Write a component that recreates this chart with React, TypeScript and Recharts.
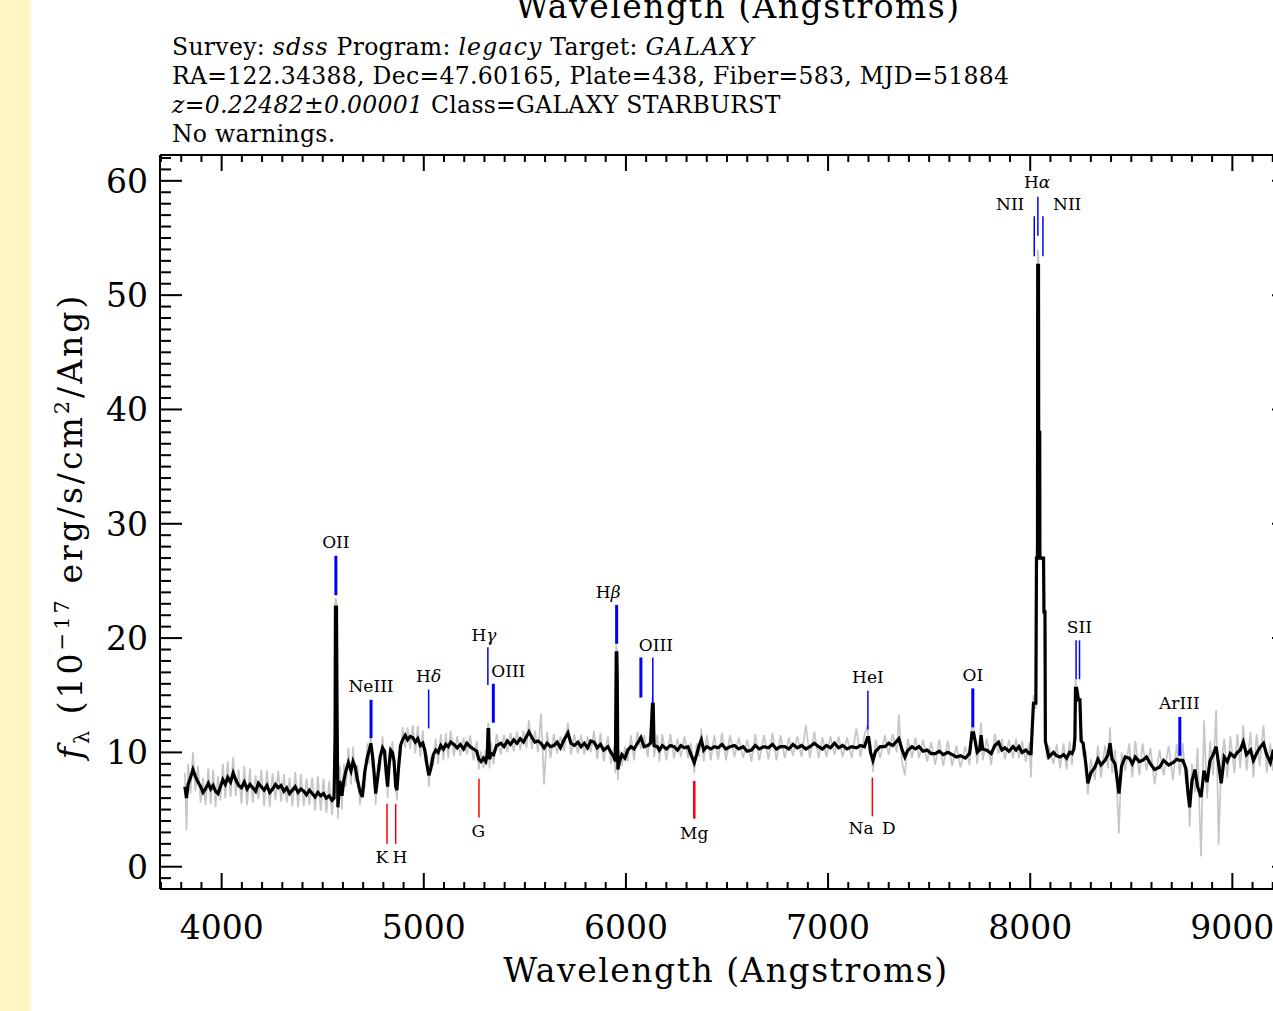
import React from 'react'
import { LineChart, Line, XAxis, YAxis, ReferenceLine, ReferenceDot } from 'recharts'

// observed wavelength (Angstroms)
const wavelength = [
  3818, 3826, 3834, 3846, 3858, 3870, 3883, 3896, 3908, 3920,
  3934, 3946, 3958, 3970, 3982, 3994, 4006, 4018, 4030, 4044,
  4057, 4070, 4084, 4098, 4112, 4126, 4140, 4154, 4168, 4182,
  4196, 4210, 4224, 4238, 4252, 4266, 4280, 4294, 4308, 4322,
  4336, 4350, 4364, 4378, 4392, 4406, 4420, 4434, 4448, 4462,
  4476, 4490, 4504, 4518, 4532, 4546, 4556, 4561, 4563, 4568,
  4571, 4575, 4585, 4595, 4605, 4615, 4627, 4640, 4650, 4661,
  4672, 4684, 4696, 4708, 4721, 4730, 4738, 4746, 4754, 4762,
  4772, 4784, 4796, 4806, 4814, 4821, 4828, 4836, 4845, 4853,
  4861, 4867, 4875, 4885, 4895, 4908, 4920, 4933, 4945, 4958,
  4970, 4983, 4995, 5005, 5015, 5025, 5035, 5047, 5059, 5071,
  5084, 5097, 5109, 5121, 5133, 5149, 5165, 5181, 5197, 5213,
  5229, 5246, 5262, 5272, 5283, 5295, 5306, 5314, 5318, 5321,
  5325, 5333, 5345, 5360, 5381, 5397, 5413, 5429, 5445, 5461,
  5477, 5493, 5508, 5520, 5535, 5550, 5565, 5580, 5595, 5610,
  5627, 5643, 5660, 5676, 5694, 5713, 5728, 5745, 5762, 5778,
  5794, 5810, 5826, 5842, 5858, 5874, 5890, 5911, 5926, 5941,
  5948, 5952, 5955, 5957, 5960, 5968, 5980, 5995, 6009, 6025,
  6040, 6057, 6074, 6090, 6108, 6122, 6131, 6135, 6139, 6155,
  6165, 6180, 6200, 6220, 6238, 6255, 6272, 6290, 6307, 6322,
  6338, 6350, 6362, 6373, 6385, 6400, 6420, 6437, 6456, 6475,
  6495, 6515, 6537, 6558, 6580, 6600, 6621, 6640, 6660, 6683,
  6705, 6725, 6745, 6765, 6786, 6806, 6826, 6848, 6869, 6890,
  6910, 6932, 6953, 6972, 6992, 7012, 7032, 7052, 7072, 7094,
  7117, 7140, 7160, 7180, 7195, 7201, 7210, 7222, 7235, 7258,
  7281, 7300, 7320, 7340, 7350, 7365, 7380, 7395, 7415, 7432,
  7450, 7470, 7490, 7510, 7530, 7550, 7570, 7592, 7614, 7635,
  7655, 7679, 7700, 7712, 7720, 7738, 7750, 7757, 7765, 7785,
  7807, 7825, 7843, 7860, 7875, 7895, 7915, 7930, 7944, 7960,
  7978, 7995, 8004, 8016, 8028, 8031, 8036, 8037, 8041, 8042,
  8047, 8048, 8066, 8068, 8073, 8075, 8082, 8092, 8115, 8131,
  8148, 8165, 8180, 8195, 8207, 8216, 8221, 8224, 8230, 8238,
  8246, 8252, 8262, 8275, 8285, 8300, 8320, 8335, 8350, 8370,
  8385, 8395, 8405, 8420, 8439, 8452, 8470, 8490, 8505, 8520,
  8540, 8556, 8575, 8595, 8615, 8640, 8660, 8685, 8706, 8725,
  8740, 8755, 8770, 8780, 8789, 8800, 8815, 8828, 8845, 8860,
  8875, 8890, 8905, 8920, 8932, 8945, 8960, 8975, 8990, 9010,
  9025, 9039, 9054, 9070, 9090, 9104, 9120, 9135, 9154, 9170,
  9188, 9200, 9218, 9232,
]

// smoothed flux (black)
const flux = [
  7.0, 6.0, 7.2, 7.8, 8.5, 7.9, 7.4, 7.0, 6.5, 6.8,
  7.3, 6.8, 7.1, 6.6, 6.4, 7.0, 7.6, 7.2, 7.8, 7.4,
  8.2, 7.6, 7.1, 6.9, 7.4, 6.8, 7.2, 6.9, 6.6, 7.3,
  7.0, 6.7, 7.1, 6.5, 6.8, 7.2, 6.9, 7.1, 6.6, 6.9,
  6.4, 6.7, 7.0, 6.5, 6.8, 6.6, 6.3, 6.7, 6.4, 6.1,
  6.5, 6.2, 6.4, 6.0, 6.2, 5.8, 6.0, 11.3, 22.7, 22.7,
  13.4, 5.2, 7.5, 6.2, 7.6, 8.4, 9.1, 8.4, 9.2, 8.7,
  7.6, 6.6, 6.1, 8.3, 9.6, 10.2, 10.8, 9.8, 8.2, 6.4,
  7.8, 9.6, 10.4, 10.1, 8.2, 7.0, 8.8, 10.2, 10.0, 9.2,
  7.0, 6.7, 8.6, 10.6, 11.1, 11.5, 11.1, 11.4, 11.3, 10.9,
  11.2, 10.6, 10.8, 10.2, 9.0, 8.0, 8.6, 9.8, 10.2, 10.0,
  10.6, 10.3, 10.7, 10.5, 10.9, 10.7, 10.4, 10.7, 10.3, 10.8,
  10.5, 10.3, 10.1, 9.4, 9.2, 9.5, 9.2, 9.8, 12.0, 12.0,
  9.4, 9.9, 9.8, 10.6, 10.8, 10.5, 11.0, 10.7, 11.1, 10.8,
  11.2, 10.9, 11.4, 11.8, 11.3, 10.9, 11.0, 10.8, 10.4, 10.8,
  10.5, 10.6, 10.9, 10.4, 11.1, 11.7, 10.8, 10.6, 10.9, 10.5,
  10.8, 10.4, 11.0, 10.9, 10.4, 10.7, 10.2, 10.5, 10.0, 9.6,
  9.2, 18.7, 18.7, 16.6, 8.5, 9.2, 9.8, 9.5, 10.2, 10.5,
  10.3, 10.8, 11.3, 10.5, 10.6, 10.8, 14.2, 14.2, 10.6, 10.5,
  10.2, 10.6, 10.3, 10.6, 10.5, 10.2, 10.6, 10.4, 10.5, 9.8,
  9.1, 9.8, 10.6, 11.1, 10.2, 10.5, 10.3, 10.5, 10.4, 10.7,
  10.3, 10.5, 10.6, 10.3, 10.5, 10.1, 10.2, 10.6, 10.3, 10.5,
  10.4, 10.7, 10.3, 10.5, 10.5, 10.3, 10.7, 10.4, 10.6, 10.3,
  10.5, 10.8, 10.5, 10.3, 10.6, 10.4, 10.8, 10.4, 10.6, 10.3,
  10.5, 10.4, 10.6, 10.5, 11.3, 11.3, 10.0, 9.3, 10.1, 10.5,
  10.5, 10.8, 10.6, 11.0, 11.2, 10.3, 9.6, 10.2, 10.5, 10.3,
  10.5, 10.1, 10.2, 9.9, 9.9, 10.1, 9.8, 10.0, 9.8, 9.6,
  9.7, 9.5, 9.9, 11.7, 11.7, 10.0, 10.2, 11.5, 10.3, 10.2,
  9.9, 10.6, 10.9, 10.2, 10.4, 10.1, 10.5, 10.2, 10.5, 10.0,
  10.2, 9.9, 9.9, 14.3, 14.3, 27.0, 27.0, 52.6, 52.6, 38.0,
  38.0, 27.0, 27.0, 22.3, 22.3, 11.0, 10.4, 9.6, 10.0, 9.7,
  9.6, 9.8, 9.5, 10.0, 9.9, 10.3, 11.2, 15.6, 15.6, 14.6,
  14.6, 11.0, 10.8, 9.0, 7.3, 8.2, 8.7, 9.4, 8.9, 9.3,
  9.8, 10.8, 9.4, 9.0, 6.4, 8.8, 9.6, 9.5, 9.0, 9.6,
  9.2, 9.3, 9.6, 9.0, 8.5, 8.7, 9.3, 8.9, 9.1, 9.4,
  9.3, 9.3, 8.6, 6.5, 5.2, 7.5, 8.5, 7.0, 6.1, 8.4,
  7.4, 9.3, 9.8, 10.5, 9.0, 7.3, 9.6, 9.2, 9.9, 9.6,
  10.0, 10.2, 10.9, 9.8, 10.2, 9.3, 9.9, 10.4, 10.8, 9.8,
  9.1, 10.0, 9.6, 10.3,
]

// unsmoothed flux (grey)
const fluxRaw = [
  8.2, 3.2, 9.0, 6.4, 10.0, 6.6, 8.8, 5.6, 7.8, 5.4,
  8.6, 5.5, 8.5, 5.2, 7.9, 5.8, 9.0, 6.0, 9.2, 6.1,
  9.6, 6.2, 8.5, 5.5, 8.8, 5.4, 8.6, 5.6, 8.0, 5.9,
  8.5, 5.3, 8.4, 5.2, 8.2, 5.8, 8.4, 5.7, 8.1, 5.6,
  7.8, 5.3, 8.3, 5.2, 8.1, 5.3, 7.7, 5.4, 7.8, 4.9,
  7.9, 4.9, 7.7, 4.7, 7.5, 4.5, 7.2, 12.0, 23.5, 23.2,
  14.0, 4.2, 8.8, 5.0, 9.0, 7.0, 10.4, 7.2, 10.5, 7.4,
  8.9, 5.4, 7.3, 7.0, 10.8, 9.0, 11.8, 8.6, 9.4, 5.4,
  9.0, 8.4, 11.4, 9.0, 9.3, 6.0, 9.8, 9.2, 11.0, 8.2,
  7.9, 5.8, 9.6, 9.6, 12.2, 10.4, 12.2, 10.3, 12.4, 9.9,
  12.3, 9.6, 11.9, 9.2, 9.9, 7.0, 9.6, 8.8, 11.2, 9.0,
  11.6, 9.3, 11.7, 9.5, 11.9, 9.7, 11.4, 9.7, 11.3, 9.8,
  11.5, 9.3, 11.0, 8.5, 10.1, 8.6, 10.2, 9.0, 12.6, 12.4,
  8.6, 10.9, 8.9, 11.6, 9.8, 11.5, 10.0, 11.7, 10.1, 11.8,
  10.2, 11.9, 10.4, 12.8, 10.3, 11.9, 10.0, 13.4, 7.2, 11.8,
  9.5, 11.6, 9.9, 11.4, 10.1, 12.6, 9.8, 11.6, 9.9, 11.5,
  9.8, 11.4, 10.0, 11.9, 9.4, 11.7, 9.2, 11.4, 9.0, 10.5,
  8.2, 19.4, 19.0, 17.2, 7.6, 10.2, 8.8, 10.5, 9.2, 11.5,
  9.3, 11.8, 10.3, 11.5, 9.6, 11.8, 14.8, 14.5, 9.6, 11.5,
  9.2, 11.6, 9.3, 11.6, 9.5, 11.2, 9.6, 11.4, 9.5, 10.8,
  8.2, 10.8, 9.6, 12.1, 9.2, 11.5, 9.3, 11.5, 9.4, 11.7,
  9.3, 11.5, 9.6, 11.3, 9.5, 11.1, 9.2, 11.6, 9.3, 11.5,
  9.4, 11.7, 9.3, 11.5, 9.5, 11.3, 9.7, 11.4, 9.6, 12.4,
  9.5, 11.8, 9.5, 11.3, 9.6, 11.4, 9.8, 11.4, 9.6, 11.3,
  9.5, 12.1, 9.6, 11.5, 12.4, 11.0, 10.9, 8.3, 11.1, 9.5,
  11.5, 9.8, 11.6, 10.0, 13.3, 9.3, 8.0, 11.2, 9.5, 11.3,
  9.5, 11.1, 9.2, 10.9, 8.9, 11.1, 8.8, 11.0, 8.8, 10.6,
  8.7, 10.5, 8.9, 12.4, 12.3, 9.0, 11.2, 12.6, 9.3, 11.2,
  8.9, 11.6, 9.9, 11.2, 9.4, 11.1, 9.5, 11.2, 9.5, 11.0,
  9.2, 10.9, 7.8, 15.0, 13.8, 28.0, 26.5, 54.0, 53.5, 39.0,
  37.5, 27.5, 26.5, 23.0, 21.5, 12.0, 9.4, 10.6, 9.0, 10.7,
  8.6, 10.8, 8.5, 11.0, 8.9, 11.3, 10.4, 16.4, 15.2, 15.3,
  14.0, 12.0, 9.8, 10.0, 6.3, 9.4, 7.6, 10.6, 7.8, 10.6,
  8.6, 12.2, 8.2, 10.2, 2.9, 10.0, 8.4, 10.8, 7.8, 11.0,
  8.0, 10.8, 8.4, 10.4, 7.2, 10.2, 8.0, 10.6, 7.6, 10.7,
  8.0, 10.8, 7.2, 8.5, 3.5, 9.0, 6.5, 10.4, 0.9, 12.8,
  6.0, 11.0, 8.0, 13.7, 1.9, 9.0, 11.2, 7.8, 11.4, 8.2,
  11.6, 8.6, 12.4, 8.4, 11.8, 7.8, 11.6, 8.8, 12.4, 8.2,
  10.8, 8.4, 11.0, 8.8,
]

// emission lines (blue marks): observed wavelength, flux range of the mark
const emissionLines = [
  { name: 'OII', wave: 4565, lo: 23.75, hi: 27.2, bold: true },
  { name: 'NeIII', wave: 4739, lo: 11.25, hi: 14.6, bold: true },
  { name: 'Hdelta', wave: 5024, lo: 12.1, hi: 15.5, bold: false },
  { name: 'Hgamma', wave: 5317, lo: 15.9, hi: 19.2, bold: false },
  { name: 'OIII4363', wave: 5344, lo: 12.6, hi: 16.0, bold: true },
  { name: 'Hbeta', wave: 5954, lo: 19.5, hi: 22.9, bold: true },
  { name: 'OIII4959', wave: 6074, lo: 14.8, hi: 18.3, bold: true },
  { name: 'OIII5007', wave: 6133, lo: 14.3, hi: 18.3, bold: false },
  { name: 'HeI', wave: 7197, lo: 12.0, hi: 15.4, bold: false },
  { name: 'OI', wave: 7716, lo: 12.2, hi: 15.6, bold: true },
  { name: 'NII6548', wave: 8020, lo: 53.4, hi: 56.9, bold: false },
  { name: 'Halpha', wave: 8038, lo: 55.2, hi: 58.6, bold: false },
  { name: 'NII6583', wave: 8063, lo: 53.4, hi: 56.9, bold: false },
  { name: 'SII6717', wave: 8227, lo: 16.4, hi: 19.8, bold: false },
  { name: 'SII6731', wave: 8244, lo: 16.4, hi: 19.8, bold: false },
  { name: 'ArIII', wave: 8740, lo: 9.7, hi: 13.1, bold: true },
]

// absorption lines (red marks)
const absorptionLines = [
  { name: 'K', wave: 4818, lo: 2.0, hi: 5.5, bold: false },
  { name: 'H', wave: 4861, lo: 2.0, hi: 5.5, bold: false },
  { name: 'G', wave: 5273, lo: 4.3, hi: 7.7, bold: false },
  { name: 'Mg', wave: 6338, lo: 4.2, hi: 7.5, bold: true },
  { name: 'NaD', wave: 7219, lo: 4.4, hi: 7.8, bold: false },
]

// label text, greek suffix, and anchor (wavelength, flux)
const lineLabels = [
  { text: 'OII', greek: '', wave: 4565, at: 28.4 },
  { text: 'NeIII', greek: '', wave: 4739, at: 15.8 },
  { text: 'H', greek: 'δ', wave: 5024, at: 16.7 },
  { text: 'H', greek: 'γ', wave: 5298, at: 20.3 },
  { text: 'OIII', greek: '', wave: 5418, at: 17.1 },
  { text: 'H', greek: 'β', wave: 5912, at: 24.0 },
  { text: 'OIII', greek: '', wave: 6148, at: 19.4 },
  { text: 'HeI', greek: '', wave: 7197, at: 16.6 },
  { text: 'OI', greek: '', wave: 7716, at: 16.8 },
  { text: 'NII', greek: '', wave: 7901, at: 58.0 },
  { text: 'H', greek: 'α', wave: 8034, at: 59.9 },
  { text: 'NII', greek: '', wave: 8183, at: 58.0 },
  { text: 'SII', greek: '', wave: 8243, at: 21.0 },
  { text: 'ArIII', greek: '', wave: 8738, at: 14.3 },
  { text: 'K', greek: '', wave: 4793, at: 0.85 },
  { text: 'H', greek: '', wave: 4882, at: 0.85 },
  { text: 'G', greek: '', wave: 5270, at: 3.1 },
  { text: 'Mg', greek: '', wave: 6338, at: 2.95 },
  { text: 'Na\u2002D', greek: '', wave: 7218, at: 3.4 },
]

const xMajorTicks = [4000, 5000, 6000, 7000, 8000, 9000]
const yMajorTicks = [0, 10, 20, 30, 40, 50, 60]

const X_DOMAIN = [3695, 9305]
const Y_DOMAIN = [-1.95, 62.26]

const xTicks: number[] = []
for (let w = 3700; w <= 9300; w += 100) xTicks.push(w)
const yTicks: number[] = []
for (let v = -1; v <= 62; v += 1) yTicks.push(v)

const SERIF = '"DejaVu Serif", "Liberation Serif", serif'
const BLUE = '#0000ff'
const RED = '#ff0000'

const spectrum = wavelength.map((w, i) => ({ wave: w, flux: flux[i], raw: fluxRaw[i] }))

const tickFont = { fontFamily: SERIF, fontSize: 33, fill: '#000' }

function BottomTick(props: any) {
  const { x, y, payload } = props
  const major = xMajorTicks.includes(payload.value)
  return (
    <g>
      <line x1={x} x2={x} y1={y} y2={y - (major ? 16 : 7)} stroke="#000" strokeWidth={2} />
      {major && (
        <text x={x} y={y + 50} textAnchor="middle" {...tickFont}>
          {payload.value}
        </text>
      )}
    </g>
  )
}

function TopTick(props: any) {
  const { x, y, payload } = props
  const major = xMajorTicks.includes(payload.value)
  return <line x1={x} x2={x} y1={y} y2={y + (major ? 16 : 7)} stroke="#000" strokeWidth={2} />
}

function LeftTick(props: any) {
  const { x, y, payload } = props
  const major = yMajorTicks.includes(payload.value)
  return (
    <g>
      <line x1={x} x2={x + (major ? 22 : 11)} y1={y} y2={y} stroke="#000" strokeWidth={2} />
      {major && (
        <text x={x - 12} y={y + 12} textAnchor="end" {...tickFont}>
          {payload.value}
        </text>
      )}
    </g>
  )
}

function RightTick(props: any) {
  const { x, y, payload } = props
  const major = yMajorTicks.includes(payload.value)
  return <line x1={x} x2={x - (major ? 22 : 11)} y1={y} y2={y} stroke="#000" strokeWidth={2} />
}

function lineLabel(text: string, greek: string) {
  return (p: any) => (
    <text
      x={p.cx}
      y={p.cy}
      textAnchor="middle"
      dominantBaseline="central"
      fontFamily={SERIF}
      fontSize={17}
      fill="#000"
    >
      {text}
      {greek && <tspan fontStyle="italic">{greek}</tspan>}
    </text>
  )
}

export default function App() {
  return (
    <div
      style={{
        position: 'absolute',
        left: 0,
        top: 0,
        width: 1273,
        height: 1011,
        overflow: 'hidden',
        background: '#fff',
      }}
    >
      <div style={{ position: 'absolute', left: 0, top: 0, width: 30, height: 1011, background: '#fff6c1' }} />
      <svg width={1273} height={1011} style={{ position: 'absolute', left: 0, top: 0 }}>
        {/* top axis title, cropped by the page edge as in the source image */}
        <text x={738} y={18} textAnchor="middle" fontFamily={SERIF} fontSize={33} letterSpacing={1.5}>
          Wavelength (Angstroms)
        </text>
        <g fontFamily={SERIF} fontSize={23.5} fill="#000" letterSpacing={0.3}>
          <text x={172} y={55}>
            Survey: <tspan fontStyle="italic" letterSpacing={1.2}>sdss</tspan> Program:{' '}
            <tspan fontStyle="italic" letterSpacing={1.2}>legacy</tspan> Target:{' '}
            <tspan fontStyle="italic" letterSpacing={1.5}>GALAXY</tspan>
          </text>
          <text x={172} y={84}>
            RA=122.34388, Dec=47.60165, Plate=438, Fiber=583, MJD=51884
          </text>
          <text x={172} y={113}>
            <tspan fontStyle="italic">z=0.22482±0.00001</tspan> Class=GALAXY STARBURST
          </text>
          <text x={172} y={142}>
            No warnings.
          </text>
        </g>
        <text x={726} y={982} textAnchor="middle" fontFamily={SERIF} fontSize={33} letterSpacing={1.5}>
          Wavelength (Angstroms)
        </text>
        <text
          transform="translate(82 526) rotate(-90)"
          textAnchor="middle"
          fontFamily={SERIF}
          fontSize={33}
          letterSpacing={3}
        >
          <tspan fontStyle="italic">f</tspan>
          <tspan fontSize={21} dy={7}>λ</tspan>
          <tspan dy={-7}> (10</tspan>
          <tspan fontSize={21} dy={-13}>−17</tspan>
          <tspan dy={13}> erg/s/cm</tspan>
          <tspan fontSize={21} dy={-13}>2</tspan>
          <tspan dy={13}>/Ang)</tspan>
        </text>
      </svg>
      <div style={{ position: 'absolute', left: 0, top: 0 }}>
        <LineChart
          width={1340}
          height={1011}
          data={spectrum}
          margin={{ top: 135, right: 26, bottom: 62, left: 0 }}
        >
          <XAxis
            xAxisId="b"
            type="number"
            dataKey="wave"
            domain={X_DOMAIN}
            allowDataOverflow
            ticks={xTicks}
            interval={0}
            tickSize={0}
            tickMargin={0}
            height={60}
            tickLine={false}
            axisLine={{ stroke: '#000', strokeWidth: 2 }}
            tick={BottomTick}
          />
          <XAxis
            xAxisId="t"
            orientation="top"
            type="number"
            dataKey="wave"
            domain={X_DOMAIN}
            allowDataOverflow
            ticks={xTicks}
            interval={0}
            tickSize={0}
            tickMargin={0}
            height={20}
            tickLine={false}
            axisLine={{ stroke: '#000', strokeWidth: 2 }}
            tick={TopTick}
          />
          <YAxis
            yAxisId="l"
            type="number"
            domain={Y_DOMAIN}
            allowDataOverflow
            ticks={yTicks}
            interval={0}
            tickSize={0}
            tickMargin={0}
            width={160}
            tickLine={false}
            axisLine={{ stroke: '#000', strokeWidth: 2 }}
            tick={LeftTick}
          />
          <YAxis
            yAxisId="r"
            orientation="right"
            type="number"
            domain={Y_DOMAIN}
            allowDataOverflow
            ticks={yTicks}
            interval={0}
            tickSize={0}
            tickMargin={0}
            width={20}
            tickLine={false}
            axisLine={{ stroke: '#000', strokeWidth: 2 }}
            tick={RightTick}
          />
          <Line
            xAxisId="b"
            yAxisId="l"
            type="linear"
            dataKey="raw"
            stroke="#c6c6c6"
            strokeWidth={1.7}
            dot={false}
            isAnimationActive={false}
          />
          <Line
            xAxisId="b"
            yAxisId="l"
            type="linear"
            dataKey="flux"
            stroke="#000"
            strokeWidth={3.2}
            dot={false}
            isAnimationActive={false}
          />
          {emissionLines.map((l) => (
            <ReferenceLine
              key={l.name}
              xAxisId="b"
              yAxisId="l"
              segment={[
                { x: l.wave, y: l.lo },
                { x: l.wave, y: l.hi },
              ]}
              stroke={BLUE}
              strokeWidth={l.bold ? 3 : 1.5}
            />
          ))}
          {absorptionLines.map((l) => (
            <ReferenceLine
              key={l.name}
              xAxisId="b"
              yAxisId="l"
              segment={[
                { x: l.wave, y: l.lo },
                { x: l.wave, y: l.hi },
              ]}
              stroke={RED}
              strokeWidth={l.bold ? 2.5 : 1.5}
            />
          ))}
          {lineLabels.map((l, i) => (
            <ReferenceDot
              key={i}
              xAxisId="b"
              yAxisId="l"
              x={l.wave}
              y={l.at}
              r={0}
              shape={lineLabel(l.text, l.greek)}
            />
          ))}
        </LineChart>
      </div>
    </div>
  )
}
